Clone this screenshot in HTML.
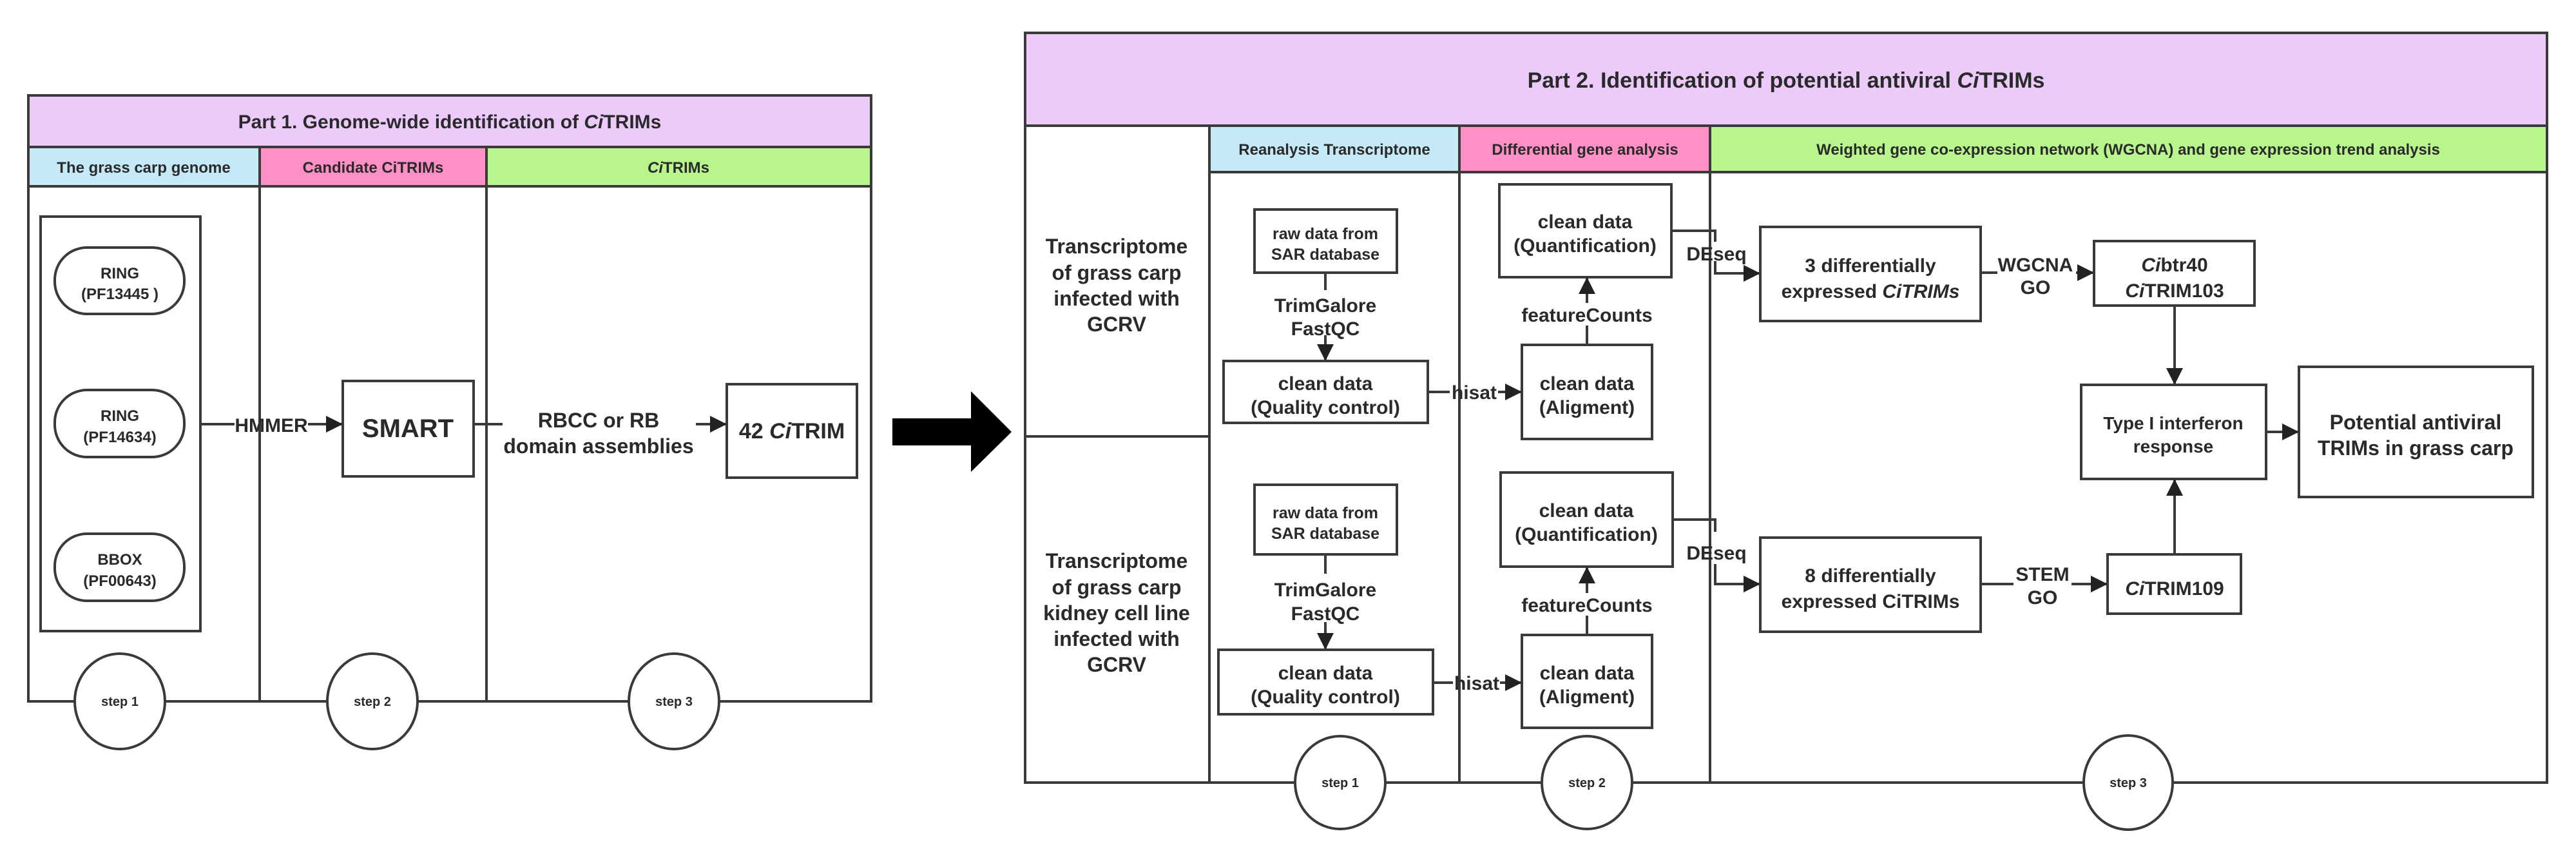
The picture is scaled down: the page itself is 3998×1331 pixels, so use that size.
<!DOCTYPE html>
<html><head><meta charset="utf-8"><style>
html,body{margin:0;padding:0;background:#fff;}
svg{display:block;font-family:"Liberation Sans",Arial,sans-serif;font-weight:bold;}
</style></head><body>
<svg width="3998" height="1331" viewBox="0 0 3998 1331" xmlns="http://www.w3.org/2000/svg">
<defs>
<marker id="a" viewBox="0 0 10 10" refX="10" refY="5" markerWidth="26" markerHeight="26" markerUnits="userSpaceOnUse" orient="auto"><path d="M0,0 L10,5 L0,10 z" fill="#222"/></marker>
</defs>
<g stroke="#3a3a3a" stroke-width="4" fill="none">
<rect x="44" y="148" width="1308" height="80" fill="#eccbfb"/>
<rect x="44" y="228" width="359" height="61" fill="#c6e9f8"/>
<rect x="403" y="228" width="352" height="61" fill="#ff90c6"/>
<rect x="755" y="228" width="597" height="61" fill="#b8f58c"/>
<rect x="44" y="289" width="1308" height="799"/>
<line x1="403" y1="289" x2="403" y2="1088"/>
<line x1="755" y1="289" x2="755" y2="1088"/>
<rect x="63" y="336" width="248" height="643"/>
<rect x="85" y="384" width="201" height="103" rx="50"/>
<rect x="85" y="605" width="201" height="104" rx="50"/>
<rect x="85" y="828" width="201" height="104" rx="50"/>
<rect x="532" y="591" width="203" height="148"/>
<rect x="1128" y="596" width="202" height="145"/>
<line x1="311" y1="658" x2="364" y2="658"/>
<line x1="478" y1="658" x2="532" y2="658" marker-end="url(#a)"/>
<line x1="735" y1="658" x2="780" y2="658"/>
<line x1="1080" y1="658" x2="1128" y2="658" marker-end="url(#a)"/>
<ellipse cx="186" cy="1088" rx="70" ry="74" fill="#fff"/>
<ellipse cx="578" cy="1088" rx="70" ry="74" fill="#fff"/>
<ellipse cx="1046" cy="1088" rx="70" ry="74" fill="#fff"/>
<rect x="1591" y="51" width="2362" height="144" fill="#eccbfb"/>
<rect x="1877" y="195" width="388" height="72" fill="#c6e9f8"/>
<rect x="2265" y="195" width="389" height="72" fill="#ff90c6"/>
<rect x="2654" y="195" width="1299" height="72" fill="#b8f58c"/>
<rect x="1591" y="195" width="2362" height="1019"/>
<line x1="1877" y1="195" x2="1877" y2="1214"/>
<line x1="2265" y1="267" x2="2265" y2="1214"/>
<line x1="2654" y1="267" x2="2654" y2="1214"/>
<line x1="1591" y1="677" x2="1877" y2="677"/>
<rect x="1947" y="325" width="221" height="98"/>
<line x1="2057" y1="423" x2="2057" y2="450"/>
<line x1="2057" y1="520" x2="2057" y2="560" marker-end="url(#a)"/>
<rect x="1899" y="560" width="317" height="96"/>
<line x1="2216" y1="608" x2="2250" y2="608"/>
<line x1="2325" y1="608" x2="2362" y2="608" marker-end="url(#a)"/>
<rect x="2362" y="535" width="202" height="146"/>
<rect x="2327" y="286" width="267" height="144"/>
<line x1="2463" y1="535" x2="2463" y2="505"/>
<line x1="2463" y1="470" x2="2463" y2="430" marker-end="url(#a)"/>
<polyline points="2594,358 2662,358 2662,375"/>
<polyline points="2662,405 2662,424 2732,424" marker-end="url(#a)"/>
<rect x="1947" y="752" width="221" height="108"/>
<line x1="2057" y1="860" x2="2057" y2="890"/>
<line x1="2057" y1="965" x2="2057" y2="1008" marker-end="url(#a)"/>
<rect x="1891" y="1008" width="333" height="100"/>
<line x1="2224" y1="1059" x2="2255" y2="1059"/>
<line x1="2328" y1="1059" x2="2362" y2="1059" marker-end="url(#a)"/>
<rect x="2362" y="985" width="202" height="144"/>
<rect x="2329" y="733" width="267" height="146"/>
<line x1="2463" y1="985" x2="2463" y2="955"/>
<line x1="2463" y1="920" x2="2463" y2="879" marker-end="url(#a)"/>
<polyline points="2596,806 2662,806 2662,825"/>
<polyline points="2662,875 2662,906 2732,906" marker-end="url(#a)"/>
<rect x="2732" y="352" width="342" height="146"/>
<line x1="3074" y1="423" x2="3100" y2="423"/>
<line x1="3222" y1="423" x2="3250" y2="423" marker-end="url(#a)"/>
<rect x="3250" y="374" width="249" height="100"/>
<line x1="3375" y1="474" x2="3375" y2="597" marker-end="url(#a)"/>
<rect x="3230" y="597" width="287" height="146"/>
<line x1="3517" y1="670" x2="3568" y2="670" marker-end="url(#a)"/>
<rect x="3568" y="569" width="363" height="202"/>
<rect x="2732" y="834" width="342" height="146"/>
<line x1="3074" y1="906" x2="3125" y2="906"/>
<line x1="3215" y1="906" x2="3271" y2="906" marker-end="url(#a)"/>
<rect x="3271" y="860" width="207" height="92"/>
<line x1="3375" y1="860" x2="3375" y2="743" marker-end="url(#a)"/>
<ellipse cx="2080" cy="1214" rx="70" ry="72" fill="#fff"/>
<ellipse cx="2463" cy="1214" rx="70" ry="72" fill="#fff"/>
<ellipse cx="3303" cy="1214" rx="69" ry="73" fill="#fff"/>
</g>
<path d="M1385,649 L1507,649 L1507,607 L1570,670 L1507,732 L1507,691 L1385,691 Z" fill="#000"/>
<g fill="#2a2a2a" text-anchor="middle">
<text x="698" y="199" font-size="30">Part 1. Genome-wide identification of <tspan font-style="italic">Ci</tspan>TRIMs</text>
<text x="223" y="268" font-size="24">The grass carp genome</text>
<text x="579" y="268" font-size="24">Candidate CiTRIMs</text>
<text x="1053" y="268" font-size="24"><tspan font-style="italic">Ci</tspan>TRIMs</text>
<g font-size="24"><text x="186" y="432">RING</text><text x="186" y="464">(PF13445 )</text>
<text x="186" y="653">RING</text><text x="186" y="686">(PF14634)</text>
<text x="186" y="876">BBOX</text><text x="186" y="909">(PF00643)</text></g>
<text x="421" y="670" font-size="30">HMMER</text>
<text x="633" y="678" font-size="40">SMART</text>
<text x="929" y="663" font-size="32">RBCC or RB</text>
<text x="929" y="703" font-size="32">domain assemblies</text>
<text x="1229" y="680" font-size="34">42 <tspan font-style="italic">Ci</tspan>TRIM</text>
<g font-size="20"><text x="186" y="1095">step 1</text><text x="578" y="1095">step 2</text><text x="1046" y="1095">step 3</text>
<text x="2080" y="1221">step 1</text><text x="2463" y="1221">step 2</text><text x="3303" y="1221">step 3</text></g>
<text x="2772" y="136" font-size="34">Part 2. Identification of potential antiviral <tspan font-style="italic">Ci</tspan>TRIMs</text>
<text x="2071" y="240" font-size="24">Reanalysis Transcriptome</text>
<text x="2460" y="240" font-size="24">Differential gene analysis</text>
<text x="3303" y="240" font-size="24">Weighted gene co-expression network (WGCNA) and gene expression trend analysis</text>
<g font-size="32"><text x="1733" y="393">Transcriptome</text><text x="1733" y="434">of grass carp</text><text x="1733" y="474">infected with</text><text x="1733" y="514">GCRV</text>
<text x="1733" y="881">Transcriptome</text><text x="1733" y="922">of grass carp</text><text x="1733" y="962">kidney cell line</text><text x="1733" y="1002">infected with</text><text x="1733" y="1042">GCRV</text></g>
<g font-size="25"><text x="2057" y="371">raw data from</text><text x="2057" y="403">SAR database</text>
<text x="2057" y="804">raw data from</text><text x="2057" y="836">SAR database</text></g>
<g font-size="30"><text x="2057" y="484">TrimGalore</text><text x="2057" y="520">FastQC</text>
<text x="2057" y="925">TrimGalore</text><text x="2057" y="962">FastQC</text>
<text x="2057" y="605">clean data</text><text x="2057" y="642">(Quality control)</text>
<text x="2057" y="1054">clean data</text><text x="2057" y="1091">(Quality control)</text>
<text x="2288" y="619">hisat</text><text x="2292" y="1070">hisat</text>
<text x="2463" y="605">clean data</text><text x="2463" y="642">(Aligment)</text>
<text x="2463" y="1054">clean data</text><text x="2463" y="1091">(Aligment)</text>
<text x="2460" y="354">clean data</text><text x="2460" y="391">(Quantification)</text>
<text x="2462" y="802">clean data</text><text x="2462" y="839">(Quantification)</text>
<text x="2463" y="499">featureCounts</text><text x="2463" y="949">featureCounts</text>
<text x="2664" y="404">DEseq</text><text x="2664" y="868">DEseq</text>
<text x="2903" y="422">3 differentially</text><text x="2903" y="462">expressed <tspan font-style="italic">CiTRIMs</tspan></text>
<text x="2903" y="903">8 differentially</text><text x="2903" y="943">expressed CiTRIMs</text>
<text x="3159" y="421">WGCNA</text><text x="3159" y="456">GO</text>
<text x="3170" y="901">STEM</text><text x="3170" y="937">GO</text>
<text x="3375" y="421"><tspan font-style="italic">Ci</tspan>btr40</text><text x="3375" y="461"><tspan font-style="italic">Ci</tspan>TRIM103</text>
<text x="3375" y="923"><tspan font-style="italic">Ci</tspan>TRIM109</text></g>
<g font-size="28"><text x="3373" y="666">Type I interferon</text><text x="3373" y="702">response</text></g>
<g font-size="32"><text x="3749" y="666">Potential antiviral</text><text x="3749" y="706">TRIMs in grass carp</text></g>
</g>
</svg>
</body></html>
